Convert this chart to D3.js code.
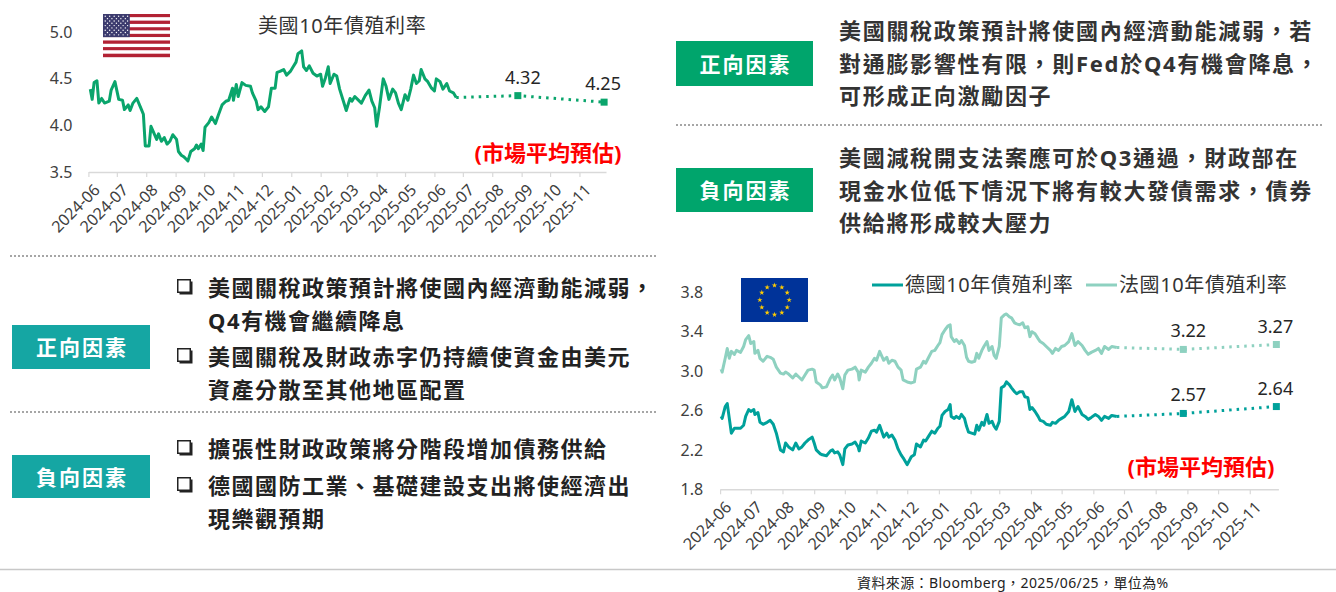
<!DOCTYPE html>
<html>
<head>
<meta charset="utf-8">
<script src="https://cdn.jsdelivr.net/npm/d3@7"></script>
<style>
  body { margin: 0; background: #fff; }
  svg text { font-family: "Noto Sans", "Noto Sans CJK TC", sans-serif; }
</style>
</head>
<body>
<svg id="chart" width="1336" height="592"></svg>
<script>
// ---- data ----
var monthTicks = ["2024-06", "2024-07", "2024-08", "2024-09", "2024-10", "2024-11", "2024-12",
  "2025-01", "2025-02", "2025-03", "2025-04", "2025-05", "2025-06", "2025-07", "2025-08",
  "2025-09", "2025-10", "2025-11"];

var usDates = ["2024-06-03", "2024-06-05", "2024-06-07", "2024-06-10", "2024-06-12", "2024-06-15",
  "2024-06-18", "2024-06-23", "2024-06-25", "2024-06-29", "2024-07-03", "2024-07-07", "2024-07-09",
  "2024-07-13", "2024-07-15", "2024-07-18", "2024-07-22", "2024-07-27", "2024-07-29", "2024-07-31",
  "2024-08-04", "2024-08-06", "2024-08-09", "2024-08-12", "2024-08-14", "2024-08-17", "2024-08-20",
  "2024-08-23", "2024-08-26", "2024-08-29", "2024-09-02", "2024-09-04", "2024-09-07", "2024-09-10",
  "2024-09-12", "2024-09-14", "2024-09-17", "2024-09-21", "2024-09-23", "2024-09-25", "2024-09-28",
  "2024-09-30", "2024-10-02", "2024-10-06", "2024-10-09", "2024-10-13", "2024-10-16", "2024-10-20",
  "2024-10-24", "2024-10-27", "2024-10-31", "2024-11-01", "2024-11-04", "2024-11-06", "2024-11-10",
  "2024-11-14", "2024-11-19", "2024-11-21", "2024-11-25", "2024-11-27", "2024-11-30", "2024-12-04",
  "2024-12-08", "2024-12-11", "2024-12-15", "2024-12-17", "2024-12-20", "2024-12-24", "2024-12-27",
  "2024-12-31", "2025-01-03", "2025-01-06", "2025-01-08", "2025-01-12", "2025-01-14", "2025-01-17",
  "2025-01-20", "2025-01-24", "2025-01-28", "2025-02-01", "2025-02-03", "2025-02-06", "2025-02-09",
  "2025-02-11", "2025-02-15", "2025-02-18", "2025-02-21", "2025-02-25", "2025-02-28", "2025-03-04",
  "2025-03-06", "2025-03-09", "2025-03-12", "2025-03-16", "2025-03-20", "2025-03-24", "2025-03-27",
  "2025-03-30", "2025-04-01", "2025-04-04", "2025-04-08", "2025-04-11", "2025-04-14", "2025-04-18",
  "2025-04-21", "2025-04-24", "2025-04-27", "2025-05-01", "2025-05-04", "2025-05-07", "2025-05-10",
  "2025-05-13", "2025-05-16", "2025-05-18", "2025-05-22", "2025-05-25", "2025-05-29", "2025-06-01",
  "2025-06-03", "2025-06-07", "2025-06-10", "2025-06-14", "2025-06-17", "2025-06-21", "2025-06-24"];
var usYield = [4.39, 4.28, 4.46, 4.48, 4.24, 4.29, 4.24, 4.26, 4.38, 4.47, 4.28, 4.27, 4.17,
  4.22, 4.16, 4.24, 4.29, 4.17, 4.12, 3.78, 3.78, 3.99, 3.92, 3.85, 3.91, 3.83, 3.87,
  3.80, 3.83, 3.90, 3.85, 3.72, 3.68, 3.66, 3.64, 3.62, 3.72, 3.75, 3.79, 3.75, 3.80,
  3.73, 3.98, 4.03, 4.09, 4.02, 4.11, 4.22, 4.26, 4.27, 4.40, 4.27, 4.44, 4.31, 4.46,
  4.43, 4.42, 4.35, 4.26, 4.17, 4.20, 4.15, 4.20, 4.40, 4.40, 4.57, 4.58, 4.60, 4.54,
  4.58, 4.63, 4.68, 4.77, 4.80, 4.63, 4.59, 4.64, 4.56, 4.53, 4.55, 4.42, 4.51, 4.63,
  4.45, 4.55, 4.53, 4.39, 4.26, 4.16, 4.29, 4.26, 4.31, 4.28, 4.24, 4.32, 4.38, 4.26,
  4.19, 3.99, 4.19, 4.50, 4.42, 4.28, 4.39, 4.35, 4.24, 4.17, 4.33, 4.27, 4.39, 4.54,
  4.45, 4.48, 4.60, 4.50, 4.47, 4.40, 4.37, 4.50, 4.47, 4.39, 4.45, 4.37, 4.35, 4.30];
var usForecastDates = ["2025-08-28", "2025-11-27"];
var usForecast = [4.32, 4.25];
var usYTicks = [3.5, 4.0, 4.5, 5.0];

var euDates = ["2024-06-02", "2024-06-03", "2024-06-06", "2024-06-08", "2024-06-10", "2024-06-12",
  "2024-06-15", "2024-06-17", "2024-06-21", "2024-06-24", "2024-06-26", "2024-06-29", "2024-07-01",
  "2024-07-04", "2024-07-05", "2024-07-08", "2024-07-10", "2024-07-13", "2024-07-17", "2024-07-20",
  "2024-07-23", "2024-07-26", "2024-07-30", "2024-08-02", "2024-08-04", "2024-08-07", "2024-08-11",
  "2024-08-14", "2024-08-17", "2024-08-20", "2024-08-23", "2024-08-26", "2024-08-30", "2024-09-01",
  "2024-09-03", "2024-09-07", "2024-09-09", "2024-09-13", "2024-09-17", "2024-09-19", "2024-09-21",
  "2024-09-24", "2024-09-26", "2024-09-29", "2024-10-01", "2024-10-04", "2024-10-08", "2024-10-11",
  "2024-10-14", "2024-10-15", "2024-10-17", "2024-10-21", "2024-10-24", "2024-10-27", "2024-10-30",
  "2024-11-01", "2024-11-04", "2024-11-08", "2024-11-11", "2024-11-13", "2024-11-16", "2024-11-19",
  "2024-11-22", "2024-11-25", "2024-11-27", "2024-12-01", "2024-12-05", "2024-12-08", "2024-12-10",
  "2024-12-14", "2024-12-17", "2024-12-19", "2024-12-22", "2024-12-25", "2024-12-28", "2024-12-31",
  "2025-01-02", "2025-01-04", "2025-01-07", "2025-01-10", "2025-01-12", "2025-01-13", "2025-01-16",
  "2025-01-18", "2025-01-21", "2025-01-23", "2025-01-26", "2025-01-28", "2025-01-30", "2025-02-02",
  "2025-02-05", "2025-02-07", "2025-02-09", "2025-02-12", "2025-02-14", "2025-02-17", "2025-02-19",
  "2025-02-22", "2025-02-24", "2025-02-26", "2025-03-01", "2025-03-03", "2025-03-06", "2025-03-08",
  "2025-03-11", "2025-03-13", "2025-03-16", "2025-03-18", "2025-03-21", "2025-03-24", "2025-03-26",
  "2025-03-29", "2025-03-31", "2025-04-02", "2025-04-05", "2025-04-08", "2025-04-10", "2025-04-13",
  "2025-04-16", "2025-04-20", "2025-04-22", "2025-04-25", "2025-04-28", "2025-05-01", "2025-05-04",
  "2025-05-08", "2025-05-11", "2025-05-14", "2025-05-17", "2025-05-21", "2025-05-24", "2025-05-27",
  "2025-05-30", "2025-06-03", "2025-06-06", "2025-06-09", "2025-06-12", "2025-06-16", "2025-06-19",
  "2025-06-24"];
var frYield = [3.02, 2.99, 3.13, 3.23, 3.13, 3.20, 3.17, 3.21, 3.19, 3.25, 3.32, 3.36, 3.28,
  3.30, 3.18, 3.21, 3.13, 3.10, 3.15, 3.14, 3.12, 3.04, 2.98, 2.97, 2.99, 2.97, 2.93,
  2.97, 2.94, 2.91, 2.96, 3.01, 3.02, 3.01, 2.89, 2.86, 2.83, 2.84, 2.93, 2.96, 2.91,
  2.97, 2.93, 2.82, 2.96, 3.01, 3.02, 3.04, 2.99, 2.91, 3.01, 2.99, 3.04, 3.08, 3.13,
  3.11, 3.20, 3.11, 3.14, 3.08, 3.11, 3.10, 3.04, 3.01, 2.91, 2.89, 2.88, 2.89, 3.02,
  3.04, 3.10, 3.08, 3.14, 3.20, 3.21, 3.26, 3.29, 3.37, 3.42, 3.46, 3.47, 3.35, 3.30,
  3.32, 3.28, 3.31, 3.26, 3.14, 3.10, 3.09, 3.10, 3.18, 3.13, 3.21, 3.25, 3.30, 3.21,
  3.25, 3.16, 3.13, 3.25, 3.54, 3.57, 3.58, 3.55, 3.54, 3.49, 3.48, 3.47, 3.49, 3.44,
  3.45, 3.35, 3.40, 3.38, 3.33, 3.30, 3.28, 3.25, 3.21, 3.18, 3.23, 3.21, 3.25, 3.26,
  3.30, 3.38, 3.26, 3.30, 3.26, 3.21, 3.17, 3.19, 3.21, 3.23, 3.18, 3.25, 3.22, 3.25,
  3.24];
var deYield = [2.54, 2.52, 2.64, 2.67, 2.52, 2.37, 2.42, 2.42, 2.42, 2.45, 2.54, 2.61, 2.59,
  2.61, 2.56, 2.58, 2.48, 2.46, 2.48, 2.50, 2.46, 2.37, 2.20, 2.18, 2.27, 2.23, 2.20,
  2.27, 2.21, 2.23, 2.27, 2.30, 2.33, 2.27, 2.20, 2.16, 2.15, 2.14, 2.19, 2.20, 2.17,
  2.18, 2.15, 2.05, 2.21, 2.25, 2.26, 2.28, 2.23, 2.19, 2.29, 2.27, 2.32, 2.39, 2.40,
  2.38, 2.45, 2.33, 2.37, 2.33, 2.35, 2.30, 2.21, 2.15, 2.12, 2.05, 2.13, 2.15, 2.26,
  2.23, 2.30, 2.29, 2.34, 2.39, 2.37, 2.42, 2.44, 2.55, 2.59, 2.61, 2.66, 2.54, 2.52,
  2.54, 2.52, 2.56, 2.52, 2.44, 2.38, 2.37, 2.36, 2.45, 2.40, 2.48, 2.45, 2.56, 2.47,
  2.49, 2.44, 2.41, 2.49, 2.83, 2.85, 2.89, 2.86, 2.83, 2.79, 2.77, 2.79, 2.79, 2.74,
  2.73, 2.61, 2.63, 2.59, 2.54, 2.50, 2.49, 2.46, 2.45, 2.48, 2.47, 2.50, 2.52, 2.54,
  2.59, 2.71, 2.59, 2.64, 2.56, 2.54, 2.51, 2.53, 2.56, 2.54, 2.50, 2.54, 2.52, 2.55,
  2.54];
var euForecastDates = ["2025-08-28", "2025-11-27"];
var deForecast = [2.57, 2.64];
var frForecast = [3.22, 3.27];
var euYTicks = [1.8, 2.2, 2.6, 3.0, 3.4, 3.8];

var usTitle = "美國10年債殖利率";
var euLegend = ["德國10年債殖利率", "法國10年債殖利率"];
var forecastNote = "(市場平均預估)";

var usPositive = ["美國關稅政策預計將使國內經濟動能減弱，若", "對通膨影響性有限，則Fed於Q4有機會降息，", "可形成正向激勵因子"];
var usNegative = ["美國減稅開支法案應可於Q3通過，財政部在", "現金水位低下情況下將有較大發債需求，債券", "供給將形成較大壓力"];
var euPositive = [["美國關稅政策預計將使國內經濟動能減弱，", "Q4有機會繼續降息"], ["美國關稅及財政赤字仍持續使資金由美元", "資產分散至其他地區配置"]];
var euNegative = [["擴張性財政政策將分階段增加債務供給"], ["德國國防工業、基礎建設支出將使經濟出", "現樂觀預期"]];
var factorLabels = ["正向因素", "負向因素"];
var sourceNote = "資料來源：Bloomberg，2025/06/25，單位為%";

// ---- helpers ----
var svg = d3.select("#chart");
var parseDay = d3.timeParse("%Y-%m-%d");
var parseMonth = d3.timeParse("%Y-%m");
var axisStart = parseDay("2024-06-01");
var axisEnd = parseDay("2025-11-29");

function drawChart(p) {
  var x = d3.scaleTime().domain([axisStart, axisEnd]).range([p.left, p.right]);
  var y = d3.scaleLinear().domain([p.yTicks[0], p.yTicks[p.yTicks.length - 1]]).range([p.bottom, p.top]);
  var g = svg.append("g");

  var xAxis = g.append("g")
    .attr("transform", `translate(0,${p.bottom})`)
    .call(d3.axisBottom(x)
      .tickValues(monthTicks.map(parseMonth))
      .tickSize(5)
      .tickSizeOuter(0)
      .tickFormat(d3.timeFormat("%Y-%m")));
  xAxis.attr("font-family", null).attr("font-size", null);
  xAxis.select(".domain").attr("stroke", "#d9d9d9").attr("stroke-width", 1.5);
  xAxis.selectAll(".tick line").attr("stroke", "#d9d9d9").attr("stroke-width", 1.2);
  xAxis.selectAll(".tick text")
    .attr("x", 0).attr("y", 0).attr("dy", "0.35em")
    .attr("text-anchor", "end")
    .attr("transform", "translate(8,15) rotate(-45)")
    .attr("fill", "#404040")
    .style("font-size", "16px");

  var yAxis = g.append("g")
    .attr("transform", `translate(${p.left},0)`)
    .call(d3.axisLeft(y).tickValues(p.yTicks).tickSize(0).tickPadding(p.pad).tickFormat(d3.format(".1f")));
  yAxis.attr("font-family", null).attr("font-size", null);
  yAxis.select(".domain").remove();
  yAxis.selectAll(".tick text").attr("fill", "#404040").style("font-size", "16px");

  var line = d3.line().x(d => x(d.date)).y(d => y(d.value));

  p.series.forEach(function(s) {
    var pts = s.dates.map((d, i) => ({ date: parseDay(d), value: s.values[i] }));
    var fpts = s.fDates.map((d, i) => ({ date: parseDay(d), value: s.fValues[i] }));

    g.append("path")
      .datum(pts)
      .attr("d", line)
      .attr("fill", "none")
      .attr("stroke", s.color)
      .attr("stroke-width", 3)
      .attr("stroke-linejoin", "round");

    // dotted forecast path from the last reading
    g.append("path")
      .datum([pts[pts.length - 1]].concat(fpts))
      .attr("d", line)
      .attr("fill", "none")
      .attr("stroke", s.color)
      .attr("stroke-width", 3)
      .attr("stroke-dasharray", "2.5,5");

    g.selectAll(null)
      .data(fpts)
      .enter()
      .append("rect")
      .attr("x", d => x(d.date) - 3.5)
      .attr("y", d => y(d.value) - 3.5)
      .attr("width", 7)
      .attr("height", 7)
      .attr("fill", s.color);

    g.selectAll(null)
      .data(fpts)
      .enter()
      .append("text")
      .attr("x", (d, i) => x(d.date) + (i === 0 ? 5 : -1))
      .attr("y", d => y(d.value) - 19)
      .attr("text-anchor", "middle")
      .attr("dominant-baseline", "central")
      .attr("fill", "#262626")
      .style("font-size", "18px")
      .text(d => d.value.toFixed(2));
  });

  g.append("text")
    .attr("x", p.noteX)
    .attr("y", p.noteY)
    .attr("text-anchor", "middle")
    .attr("dominant-baseline", "central")
    .attr("fill", "#ff0000")
    .style("font-size", "22px")
    .style("font-weight", "bold")
    .text(forecastNote);
}

function drawUSFlag(x0, y0, w, h) {
  var g = svg.append("g");
  var sh = h / 13;
  d3.range(13).forEach(function(i) {
    g.append("rect").attr("x", x0).attr("y", y0 + i * sh).attr("width", w).attr("height", sh + 0.2)
      .attr("fill", i % 2 === 0 ? "#b22234" : "#ffffff");
  });
  var cw = w * 0.4, ch = sh * 7;
  g.append("rect").attr("x", x0).attr("y", y0).attr("width", cw).attr("height", ch).attr("fill", "#3c3b6e");
  d3.range(9).forEach(function(r) {
    var n = r % 2 === 0 ? 6 : 5;
    d3.range(n).forEach(function(c) {
      var sx = x0 + cw / 12 * (r % 2 === 0 ? 1 + 2 * c : 2 + 2 * c);
      var sy = y0 + ch / 10 * (r + 1);
      g.append("circle").attr("cx", sx).attr("cy", sy).attr("r", 0.7).attr("fill", "#ffffff");
    });
  });
}

function drawEUFlag(x0, y0, w, h) {
  var g = svg.append("g");
  g.append("rect").attr("x", x0).attr("y", y0).attr("width", w).attr("height", h).attr("fill", "#003399");
  var star = d3.symbol().type(d3.symbolStar).size(9);
  var cx = x0 + w / 2, cy = y0 + h / 2, r = h / 3;
  d3.range(12).forEach(function(i) {
    var a = i / 12 * 2 * Math.PI;
    g.append("path").attr("d", star)
      .attr("transform", `translate(${cx + r * Math.sin(a)},${cy - r * Math.cos(a)})`)
      .attr("fill", "#ffcc00");
  });
}

function factorBox(x0, y0, w, h, color, label) {
  svg.append("rect").attr("x", x0).attr("y", y0).attr("width", w).attr("height", h).attr("fill", color);
  svg.append("text")
    .attr("x", x0 + w / 2 + 1)
    .attr("y", y0 + h / 2)
    .attr("text-anchor", "middle")
    .attr("dominant-baseline", "central")
    .attr("fill", "#ffffff")
    .style("font-size", "21px")
    .style("font-weight", "bold")
    .style("letter-spacing", "2px")
    .text(label);
}

function dottedRule(x1, x2, yy) {
  svg.append("line").attr("x1", x1).attr("x2", x2).attr("y1", yy).attr("y2", yy)
    .attr("stroke", "#a6a6a6").attr("stroke-width", 2).attr("stroke-dasharray", "2,2");
}

function textLines(lines, x0, y0, step, color) {
  lines.forEach(function(t, i) {
    svg.append("text")
      .attr("x", x0)
      .attr("y", y0 + i * step)
      .attr("dominant-baseline", "central")
      .attr("fill", color)
      .style("font-size", "22px")
      .style("font-weight", "bold")
      .style("letter-spacing", "1.7px")
      .text(t);
  });
}

function checkBox(x0, yc) {
  svg.append("rect").attr("x", x0 + 2.5).attr("y", yc - 5.5).attr("width", 13).attr("height", 13).attr("fill", "#222");
  svg.append("rect").attr("x", x0 + 0.75).attr("y", yc - 7.25).attr("width", 12.5).attr("height", 12.5)
    .attr("fill", "#fff").attr("stroke", "#222").attr("stroke-width", 1.5);
}

function bulletList(items, x0, y0, step, gap) {
  var yy = y0;
  items.forEach(function(item) {
    checkBox(x0, yy);
    item.forEach(function(t) {
      svg.append("text")
        .attr("x", x0 + 31)
        .attr("y", yy)
        .attr("dominant-baseline", "central")
        .attr("fill", "#222")
        .style("font-size", "22px")
        .style("font-weight", "bold")
        .style("letter-spacing", "1.5px")
        .text(t);
      yy += step;
    });
    yy += gap;
  });
}

// ---- US chart ----
drawUSFlag(103, 14, 67, 43);
svg.append("text")
  .attr("x", 258).attr("y", 25)
  .attr("dominant-baseline", "central")
  .attr("fill", "#333")
  .style("font-size", "20px")
  .style("letter-spacing", "0.6px")
  .text(usTitle);

drawChart({
  left: 88.4, right: 606, top: 32.3, bottom: 172, pad: 16,
  yTicks: usYTicks,
  noteX: 548, noteY: 152,
  series: [{ dates: usDates, values: usYield, fDates: usForecastDates, fValues: usForecast, color: "#0aa56c" }]
});

// ---- EU chart ----
drawEUFlag(741, 278, 67, 44);
var legendColors = ["#00a19b", "#8ed1c0"];
var legendX = [872, 1086];
euLegend.forEach(function(t, i) {
  svg.append("line").attr("x1", legendX[i]).attr("x2", legendX[i] + 31).attr("y1", 285).attr("y2", 285)
    .attr("stroke", legendColors[i]).attr("stroke-width", 3);
  svg.append("text")
    .attr("x", legendX[i] + 33).attr("y", 284)
    .attr("dominant-baseline", "central")
    .attr("fill", "#333")
    .style("font-size", "20px")
    .style("letter-spacing", "0.6px")
    .text(t);
});

drawChart({
  left: 720.1, right: 1278.4, top: 292.3, bottom: 489.3, pad: 17,
  yTicks: euYTicks,
  noteX: 1201, noteY: 466,
  series: [
    { dates: euDates, values: frYield, fDates: euForecastDates, fValues: frForecast, color: legendColors[1] },
    { dates: euDates, values: deYield, fDates: euForecastDates, fValues: deForecast, color: legendColors[0] }
  ]
});

// ---- top-right factors (US) ----
factorBox(676, 41, 137, 45, "#00a56c", factorLabels[0]);
factorBox(676, 168, 137, 44, "#00a56c", factorLabels[1]);
textLines(usPositive, 839, 30, 32.5, "#333");
textLines(usNegative, 839, 157, 32.5, "#333");
dottedRule(676, 1322, 125);

// ---- bottom-left factors (EU) ----
dottedRule(10, 658, 256);
dottedRule(10, 658, 412);
factorBox(12, 325, 138, 44, "#15a6a3", factorLabels[0]);
factorBox(12, 455, 138, 43, "#15a6a3", factorLabels[1]);
bulletList(euPositive, 177, 287, 33, 3);
bulletList(euNegative, 177, 448, 33, 4);

// ---- footer ----
svg.append("line").attr("x1", 0).attr("x2", 1336).attr("y1", 569.5).attr("y2", 569.5)
  .attr("stroke", "#c8c8c8").attr("stroke-width", 1.5);
svg.append("text")
  .attr("x", 857).attr("y", 582)
  .attr("dominant-baseline", "central")
  .attr("fill", "#222")
  .style("font-size", "14px")
  .style("letter-spacing", "0.4px")
  .text(sourceNote);
</script>
</body>
</html>
